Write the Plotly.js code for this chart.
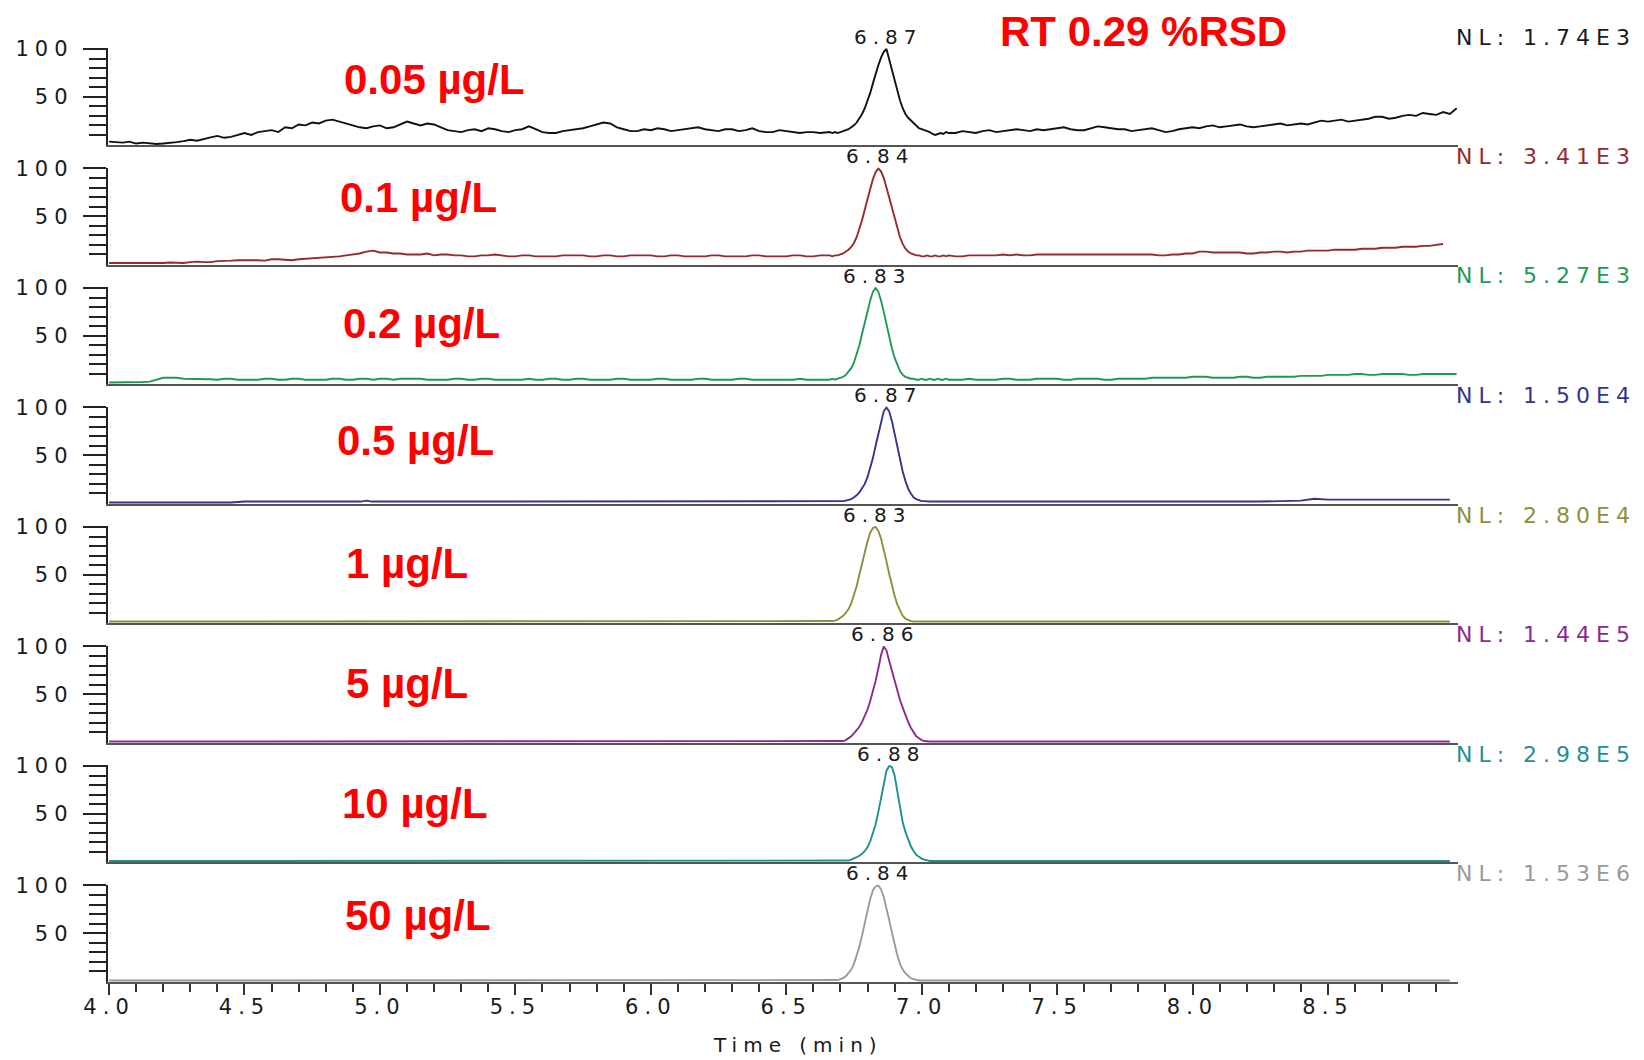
<!DOCTYPE html>
<html>
<head>
<meta charset="utf-8">
<script src="https://cdn.plot.ly/plotly-3.0.1.min.js"></script>
<style>
html,body{margin:0;padding:0;background:#fff;}
#chart{width:1644px;height:1060px;}
text[style*="DejaVu Sans"]{letter-spacing:6px;}
</style>
</head>
<body>
<div id="chart"></div>
<script>
// ---------- data ----------
const concLabels = ['0.05 µg/L','0.1 µg/L','0.2 µg/L','0.5 µg/L','1 µg/L','5 µg/L','10 µg/L','50 µg/L'];
const nlLabels = ['NL: 1.74E3','NL: 3.41E3','NL: 5.27E3','NL: 1.50E4','NL: 2.80E4','NL: 1.44E5','NL: 2.98E5','NL: 1.53E6'];
const peakTimes = [6.87, 6.84, 6.83, 6.87, 6.83, 6.86, 6.88, 6.84];
const rsdLabel = 'RT 0.29 %RSD';
const xTitle = 'Time (min)';
const yTickVals = [50, 100];
const yTickText = ['50', '100'];

const timeNoisy = [
 4,4.025,4.05,4.075,4.1,4.125,4.15,4.175,4.2,4.225,4.25,4.275,4.3,4.325,4.35,4.375,4.4,4.425,4.45,4.475,
 4.5,4.525,4.55,4.575,4.6,4.625,4.65,4.675,4.7,4.725,4.75,4.775,4.8,4.825,4.85,4.875,4.9,4.925,4.95,4.975,
 5,5.025,5.05,5.075,5.1,5.125,5.15,5.175,5.2,5.225,5.25,5.275,5.3,5.325,5.35,5.375,5.4,5.425,5.45,5.475,
 5.5,5.525,5.55,5.575,5.6,5.625,5.65,5.675,5.7,5.725,5.75,5.775,5.8,5.825,5.85,5.875,5.9,5.925,5.95,5.975,
 6,6.025,6.05,6.075,6.1,6.125,6.15,6.175,6.2,6.225,6.25,6.275,6.3,6.325,6.35,6.375,6.4,6.425,6.45,6.475,
 6.5,6.525,6.55,6.575,6.6,6.625,6.65,
 6.66,6.67,6.68,6.69,6.70,6.71,6.72,6.73,6.74,6.75,
 6.76,6.77,6.78,6.79,6.80,6.81,6.82,6.83,6.84,6.85,
 6.86,6.87,6.88,6.89,6.90,6.91,6.92,6.93,6.94,6.95,
 6.96,6.97,6.98,6.99,7.00,7.01,7.02,7.03,7.04,7.05,
 7.06,7.07,7.08,7.09,7.10,
 7.125,7.15,7.175,7.2,7.225,7.25,7.275,7.3,7.325,7.35,
 7.375,7.4,7.425,7.45,7.475,7.5,7.525,7.55,7.575,7.6,
 7.625,7.65,7.675,7.7,7.725,7.75,7.775,7.8,7.825,7.85,
 7.875,7.9,7.925,7.95,7.975,8,8.025,8.05,8.075,8.1,
 8.125,8.15,8.175,8.2,8.225,8.25,8.275,8.3,8.325,8.35,
 8.375,8.4,8.425,8.45,8.475,8.5,8.525,8.55,8.575,8.6,
 8.625,8.65,8.675,8.7,8.725,8.75,8.775,8.8,8.825,8.85,
 8.875,8.9,8.925,8.95,8.975
];

const timeClean = [
 4.00,4.25,4.45,4.50,4.75,4.93,4.95,4.97,5.25,5.50,5.75,6.00,6.25,6.50,6.60,
 6.61,6.62,6.63,6.64,6.65,6.66,6.67,6.68,6.69,6.70,
 6.71,6.72,6.73,6.74,6.75,6.76,6.77,6.78,6.79,6.80,
 6.81,6.82,6.83,6.84,6.85,6.86,6.87,6.88,6.89,6.90,
 6.91,6.92,6.93,6.94,6.95,6.96,6.97,6.98,6.99,7.00,
 7.01,7.02,7.03,7.04,7.05,7.06,7.07,7.08,7.09,7.10,
 7.25,7.50,7.75,8.00,8.25,8.40,8.45,8.50,8.75,8.95
];

const int005 = [
 3,2.5,2,3,1,2,1.5,0.5,1,1.5,2.5,3.5,5,4,6,7.5,9,7,8,10,
 12,10,13,14,15,13,18,17,21,20,23,22,25,26,24,22,20,18,17,19,
 20,17,18,21,24,22,20,22,21,18,15,14,13,15,16,14,17,16,14,13,
 15,16,19,16,13,12,12,14,15,16,17,19,21,23,22,18,16,14,14,16,
 15,17,16,14,15,16,17,18,16,15,14,16,16,14,15,17,14,13,13,15,
 14,13,12,13,13,12,13,
 13,12,13,12,13,14,15,16,18,20,
 23,27,32,38,45,54,64,74,83,91,
 97,100,89,78,67,56,46,38,32,28,
 25,22,19,17,16,15,14,13,11,10,
 11,12,11,13,12,
 12,14,13,12,14,15,13,14,15,16,
 15,14,16,15,16,17,18,16,15,15,
 17,19,18,17,16,16,14,15,16,17,
 15,13,14,16,17,18,17,19,20,18,
 19,20,21,19,18,19,20,21,22,20,
 21,22,21,23,25,24,25,26,24,25,
 26,27,29,29,27,28,30,31,30,33,
 32,31,34,32,38
];

const int01 = [
 1,1,1,0.5,0.5,1,1,1,1,1.5,1.5,1,2,2.5,2,2,3,3,3.5,4,
 4,4.5,4,3.5,5,5,4.5,4,5,5.5,5.5,6,7,7.5,8,9,10,11,13,14,
 12,12,11,11,10,10,10,11,9,10,10,9,9,8,8,9,9,10,9,8,
 8,9,9,8,8,8,8,9,9,9,9,8,8,9,9,8,8,9,9,9,
 9,8,8,9,9,8,8,8,8,9,9,8,8,8,8,9,9,8,8,8,
 8,9,9,8,8,9,9,
 9,8,9,9,10,11,13,15,18,22,
 28,36,46,57,68,79,89,96,100,97,
 90,80,69,58,47,37,28,21,16,13,
 11,10,9,9,8,8,9,8,8,9,
 8,8,9,8,9,
 8,8,9,9,9,9,9,10,9,10,
 9,9,10,10,10,10,10,10,10,10,
 10,10,10,10,10,10,10,10,10,10,
 9,9,10,10,11,11,13,13,12,12,
 12,12,12,11,11,12,12,13,13,12,
 13,13,14,14,14,14,15,15,15,15,
 16,16,16,17,17,17,18,18,18,19,
 19,20,21,null,null
];

const int02 = [
 1,1,1,1,1.5,1.5,2,4,6,6,6,5,5,5,5,4.5,4,5,5,4,
 4,4,4,5,5,4,4,5,5,4,4,4,4,5,5,4,4,5,5,4,
 5,5,4,5,5,5,5,4,4,4,4,5,5,4,4,5,5,4,4,4,
 4,4,5,4,4,5,5,4,4,5,5,4,4,4,4,5,5,4,4,4,
 4,5,5,4,4,4,4,5,5,4,4,4,4,5,5,4,4,4,4,4,
 4,4,5,4,4,4,4,
 4,5,4,5,6,7,9,12,16,22,
 30,40,52,64,76,87,96,100,96,87,
 75,62,49,37,27,19,13,9,7,6,
 5,5,4,4,5,4,4,5,4,4,
 5,4,4,5,4,
 4,4,5,4,4,4,4,5,5,4,
 4,4,5,5,5,5,4,4,5,5,
 5,5,4,4,5,5,5,5,5,6,
 6,6,6,6,6,7,7,7,6,6,
 6,6,7,7,6,6,7,7,7,7,
 7,8,8,8,8,9,9,9,9,10,
 10,9,9,10,10,10,10,9,9,10,
 10,10,10,10,10
];

const int05 = [
 0.5,0.5,0.5,1.5,1.5,1.5,2.5,1.5,1.5,1.5,1.5,1.5,1.5,1.5,1.5,
 1.5,1.5,1.5,1.5,1.5,1.5,1.5,1.5,1.5,1.5,
 2,2.5,3,4,6,8,11,15,20,27,
 36,47,60,73,86,96,100,96,86,73,
 59,45,33,23,15,10,6,4,3,2,
 2,1.5,1.5,1.5,1.5,1.5,1.5,1.5,1.5,1.5,
 1.5,1.5,1.5,1.5,1.5,2.5,4.5,3.5,3.5,3.5
];

const int1 = [
 1,1,1,1,1,1,1,1,1,1,1,1,1,1,1,
 1,1,1,1,1,1,1.5,2,3,5,
 7,10,14,20,28,38,50,62,74,85,
 94,99,100,96,88,77,64,51,39,28,
 19,12,7,4,2.5,1.5,1,1,1,1,
 1,1,1,1,1,1,1,1,1,1,
 1,1,1,1,1.5,1.5,1,1,1,1
];

const int5 = [
 0.5,0.5,0.5,0.5,0.5,0.5,0.5,0.5,0.5,0.5,0.5,0.5,0.5,0.5,0.5,
 0.5,0.5,0.5,0.5,0.5,0.5,0.5,0.5,0.5,0.5,
 1,2,4,6,9,12,16,21,27,34,
 43,53,64,77,91,100,96,85,74,64,
 54,44,36,28,21,15,10,6,4,2,
 1,0.5,0.5,0.5,0.5,0.5,0.5,0.5,0.5,0.5,
 0.5,0.5,0.5,0.5,0.5,0.5,0.5,0.5,0.5,0.5
];

const int10 = [
 0.5,0.5,0.5,0.5,0.5,0.5,0.5,0.5,0.5,0.5,0.5,0.5,0.5,0.5,0.5,
 0.5,0.5,0.5,0.5,0.5,0.5,0.5,0.5,0.5,0.5,
 0.5,0.5,1,2,3,4.5,6,8,11,15,
 21,29,39,52,67,82,95,100,99,90,
 74,57,41,31,23,16,11,7,5,3,
 2,1,0.5,0.5,0.5,0.5,0.5,0.5,0.5,0.5,
 0.5,0.5,0.5,0.5,0.5,0.5,0.5,0.5,0.5,0.5
];

const int50 = [
 0.5,0.5,0.5,0.5,0.5,0.5,0.5,0.5,0.5,0.5,0.5,0.5,0.5,0.5,0.5,
 0.5,0.5,0.5,0.5,0.5,0.5,0.5,0.5,1,2,
 3,5,8,12,18,26,36,48,61,74,
 86,95,99,100,96,88,77,64,51,38,
 27,18,12,8,5,3,2,1,0.5,0.5,
 0.5,0.5,0.5,0.5,0.5,0.5,0.5,0.5,0.5,0.5,
 0.5,0.5,0.5,0.5,0.5,0.5,0.5,0.5,0.5,0.5
];

// ---------- styles / layout ----------
const seriesTimes = [timeNoisy,timeNoisy,timeNoisy,timeClean,timeClean,timeClean,timeClean,timeClean];
const seriesVals = [int005,int01,int02,int05,int1,int5,int10,int50];
const colors = ['#111111','#962b2b','#1f9a55','#34348e','#8e8e3c','#8b2b8b','#1f9090','#9a9a9a'];

const W = 1644, H = 1060;
const plotLeft = 107.7, plotRight = 1458;
const firstTop = 49, pitch = 119.5, panelH = 95.5;
const yMin = -1, yMax = 101;
const xRange = [3.995, 8.98];
const concLeft = [345, 341, 344, 338, 347, 347, 343, 346];
const concY = [80, 197, 323, 441, 563, 683, 803, 915];
const tickFont = {family: 'DejaVu Sans', size: 21, color: '#1a1a1a'};

const traces = [];
const layout = {
  width: W, height: H,
  margin: {l: 0, r: 0, t: 0, b: 0},
  paper_bgcolor: '#fff', plot_bgcolor: '#fff',
  showlegend: false, hovermode: false,
  annotations: []
};

for (let i = 0; i < 8; i++) {
  const k = i === 0 ? '' : String(i + 1);
  traces.push({
    x: seriesTimes[i], y: seriesVals[i],
    xaxis: 'x' + k, yaxis: 'y' + k,
    type: 'scatter', mode: 'lines',
    line: {color: colors[i], width: 1.9},
    hoverinfo: 'skip'
  });
  const ppu = panelH / 100;
  const top100 = firstTop + pitch * i;
  const topPx = top100 - (yMax - 100) * ppu;
  const botPx = top100 + panelH + (0 - yMin) * ppu;
  const isBottom = i === 7;
  layout['xaxis' + k] = {
    domain: [plotLeft / W, plotRight / W],
    range: xRange, anchor: 'y' + k,
    showline: true, linecolor: '#555', linewidth: 2,
    showgrid: false, zeroline: false, fixedrange: true,
    ticks: isBottom ? 'outside' : '',
    showticklabels: isBottom,
    tick0: 4, dtick: 0.5, tickformat: '.1f',
    ticklen: 11, tickwidth: 2, tickcolor: '#333',
    tickfont: tickFont,
    ticklabelstandoff: -6,
    minor: isBottom ? {ticks: 'outside', tick0: 4, dtick: 0.1, ticklen: 8, tickwidth: 2, tickcolor: '#333', showgrid: false} : undefined
  };
  layout['yaxis' + k] = {
    domain: [1 - botPx / H, 1 - topPx / H],
    range: [yMin, yMax], anchor: 'x' + k,
    showline: true, linecolor: '#222', linewidth: 2,
    showgrid: false, zeroline: false, fixedrange: true,
    ticks: 'outside', tickmode: 'array', tickvals: yTickVals, ticktext: yTickText,
    ticklen: 23, tickwidth: 2, tickcolor: '#222',
    tickfont: tickFont, ticklabelstandoff: 5,
    minor: {ticks: 'outside', tickmode: 'array', tickvals: [10,20,30,40,60,70,80,90], ticklen: 17, tickwidth: 2, tickcolor: '#222', showgrid: false}
  };
  // peak retention-time label
  layout.annotations.push({
    xref: 'x' + k, yref: 'y' + k, x: peakTimes[i], y: 100,
    text: peakTimes[i].toFixed(2), showarrow: false,
    xanchor: 'center', yanchor: 'middle', yshift: 12, xshift: 2,
    font: {family: 'DejaVu Sans', size: 20, color: '#1a1a1a'}
  });
  // NL label
  layout.annotations.push({
    xref: 'paper', yref: 'paper', x: (1457 - 3) / W, y: 1 - (top100 - 12) / H,
    text: nlLabels[i], showarrow: false, xanchor: 'left', yanchor: 'middle',
    font: {family: 'DejaVu Sans', size: 22, color: colors[i] === '#111111' ? '#1a1a1a' : colors[i]}
  });
  // concentration label
  layout.annotations.push({
    xref: 'paper', yref: 'paper', x: (concLeft[i] - 3) / W, y: 1 - concY[i] / H,
    text: '<b>' + concLabels[i] + '</b>', showarrow: false, xanchor: 'left', yanchor: 'middle',
    font: {family: 'Liberation Sans', size: 42, color: '#ff0000'}
  });
}
layout.annotations.push({
  xref: 'paper', yref: 'paper', x: (1001 - 3) / W, y: 1 - 31.5 / H,
  text: '<b>' + rsdLabel + '</b>', showarrow: false, xanchor: 'left', yanchor: 'middle',
  font: {family: 'Liberation Sans', size: 42, color: '#ff0000'}
});
// x-axis title (placed as in the original export)
layout.annotations.push({
  xref: 'paper', yref: 'paper', x: 798 / W, y: 1 - 1045 / H,
  text: xTitle, showarrow: false, xanchor: 'center', yanchor: 'middle',
  font: {family: 'DejaVu Sans', size: 20, color: '#1a1a1a'}
});

Plotly.newPlot('chart', traces, layout, {displayModeBar: false, staticPlot: true});
</script>
</body>
</html>
